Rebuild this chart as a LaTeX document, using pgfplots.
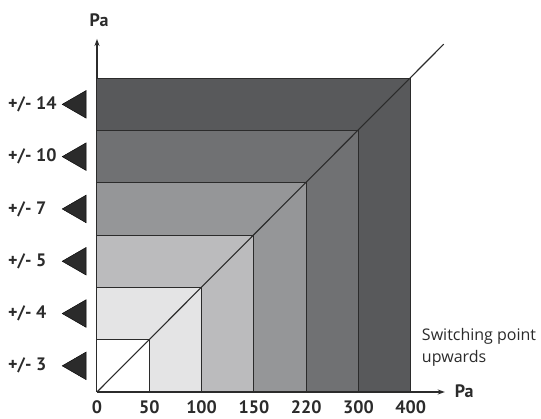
\documentclass[border=0pt]{standalone}
\usepackage{pgfplots}
\pgfplotsset{compat=1.18}
\usetikzlibrary{arrows.meta}
\usepackage{fontspec}
\setmainfont{Open Sans}
\newfontfamily\lblfont{PT Sans}
\definecolor{cA}{HTML}{FFFFFF}
\definecolor{cB}{HTML}{E4E4E5}
\definecolor{cC}{HTML}{BBBBBD}
\definecolor{cD}{HTML}{959698}
\definecolor{cE}{HTML}{707173}
\definecolor{cF}{HTML}{58595B}
\definecolor{edge}{HTML}{2B2B2B}
\begin{document}
\begin{tikzpicture}[x=1pt,y=1pt]
\path[use as bounding box] (-97,-27) rectangle (444,392);
\begin{axis}[
  at={(0,0)}, anchor=origin,
  x=52.3pt, y=52.3pt,
  xmin=0, xmax=6.65, ymin=0, ymax=6.75,
  axis lines=left,
  axis line style={line width=1.1pt, edge, -{Stealth[length=7pt,width=5pt]}},
  clip=false,
  xtick={0,1,2,3,4,5,6},
  xticklabels={0,50,100,150,220,300,400},
  ytick={0.5,1.5,2.5,3.5,4.5,5.5},
  yticklabels={+/- 3,+/- 4,+/- 5,+/- 7,+/- 10,+/- 14},
  major tick length=0pt,
  tick style={draw=none},
  /pgf/number format/assume math mode=true,
  ticklabel style={font=\lblfont\fontsize{18}{20}\selectfont\bfseries, text=edge},
  xticklabel style={anchor=north, inner sep=0pt, yshift=-8pt},
  yticklabel style={anchor=west, inner sep=0pt, xshift=-89pt},
]
\addplot[fill=cF, draw=edge, line width=1pt] coordinates {(0,0) (6,0) (6,6) (0,6)} -- cycle;
\addplot[fill=cE, draw=edge, line width=1pt] coordinates {(0,0) (5,0) (5,5) (0,5)} -- cycle;
\addplot[fill=cD, draw=edge, line width=1pt] coordinates {(0,0) (4,0) (4,4) (0,4)} -- cycle;
\addplot[fill=cC, draw=edge, line width=1pt] coordinates {(0,0) (3,0) (3,3) (0,3)} -- cycle;
\addplot[fill=cB, draw=edge, line width=1pt] coordinates {(0,0) (2,0) (2,2) (0,2)} -- cycle;
\addplot[fill=cA, draw=edge, line width=1pt] coordinates {(0,0) (1,0) (1,1) (0,1)} -- cycle;
\addplot[edge, line width=1.1pt] coordinates {(0,0) (6.63,6.65)};
\addplot[only marks, mark=triangle*, mark size=16pt,
  mark options={rotate=90, fill=edge, draw=none}]
  coordinates {(-0.36,0.5) (-0.36,1.5) (-0.36,2.5) (-0.36,3.5) (-0.36,4.5) (-0.36,5.5)};
\node[anchor=north west, align=left, inner sep=0pt, text=edge,
  font=\fontsize{16}{22}\selectfont] at (axis cs:6.21,1.22) {Switching point\\upwards};
\node[anchor=west, inner sep=0pt, text=edge, font=\lblfont\fontsize{18}{20}\selectfont\bfseries]
  at (axis cs:6.84,0.02) {Pa};
\node[anchor=center, inner sep=0pt, text=edge, font=\lblfont\fontsize{18}{20}\selectfont\bfseries]
  at (axis cs:0.04,7.11) {Pa};
\end{axis}
\end{tikzpicture}
\end{document}
